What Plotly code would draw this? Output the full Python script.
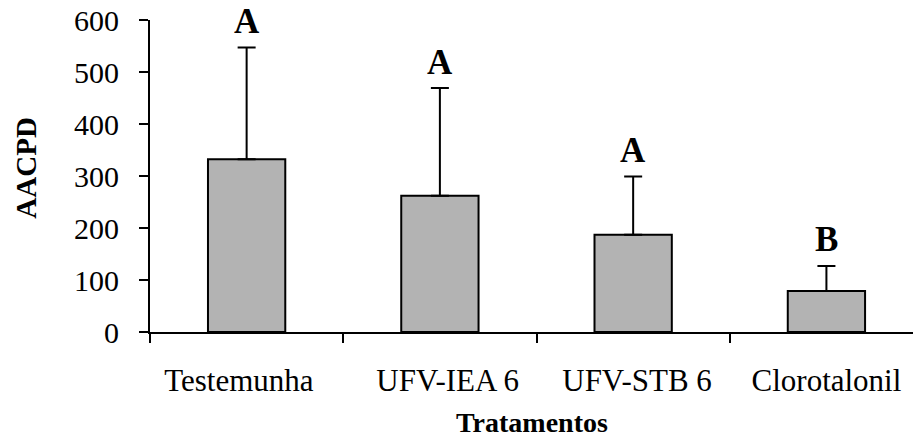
import plotly.graph_objects as go

categories = ["Testemunha", "UFV-IEA 6", "UFV-STB 6", "Clorotalonil"]
means = [332, 262, 187, 79]
errors = [215, 207, 112, 48]
letters = ["A", "A", "A", "B"]
y_ticks = [0, 100, 200, 300, 400, 500, 600]
# tick labels as placed in the original (slightly offset from bar centres)
tick_text = ["Testemunha\u00a0\u00a0", "\u00a0\u00a0UFV-IEA 6", "\u00a0UFV-STB 6", "Clorotalonil"]

FONT = "Liberation Serif"

fig = go.Figure()
fig.add_trace(go.Bar(
    x=categories, y=means, width=0.4,
    marker=dict(color="#b3b3b3", line=dict(color="black", width=2)),
    error_y=dict(type="data", symmetric=False, array=errors,
                 arrayminus=[0] * len(errors),
                 color="black", thickness=2, width=9),
    showlegend=False,
))

for c, m, e, l in zip(categories, means, errors, letters):
    fig.add_annotation(x=c, y=m + e, text=f"<b>{l}</b>", showarrow=False,
                       yanchor="middle", yshift=26,
                       font=dict(family=FONT, size=35, color="black"))

fig.add_annotation(xref="paper", yref="paper", x=(26.5 - 150) / 763, y=(331.7 - 168) / 311.7,
                   text="<b>AACPD</b>", textangle=-90, showarrow=False,
                   xanchor="center", yanchor="middle",
                   font=dict(family=FONT, size=29, color="black"))
fig.add_annotation(xref="paper", yref="paper", x=(532 - 150) / 763, y=-(441 - 331.7) / 311.7,
                   text="<b>Tratamentos</b>", showarrow=False,
                   xanchor="center", yanchor="bottom", yshift=1,
                   font=dict(family=FONT, size=28, color="black"))

fig.update_layout(
    width=913, height=441,
    margin=dict(l=150, r=0, t=20, b=109),
    paper_bgcolor="white", plot_bgcolor="white",
    font=dict(family=FONT, color="black"),
    bargap=0.6,
)
fig.update_xaxes(
    type="category", range=[-0.5, 3.448],
    tickmode="array", tickvals=categories, ticktext=tick_text,
    showline=True, linecolor="black", linewidth=2,
    ticks="outside", tickson="boundaries", ticklen=9, tickwidth=1.5, tickcolor="black",
    tickfont=dict(family=FONT, size=31, color="black"),
    ticklabelstandoff=20, showgrid=False, zeroline=False,
)
fig.update_yaxes(
    range=[0, 600], tickvals=y_ticks,
    showline=True, linecolor="black", linewidth=2,
    ticks="outside", ticklen=9, tickwidth=1.5, tickcolor="black",
    tickfont=dict(family=FONT, size=30, color="black"),
    ticklabelstandoff=14, showgrid=False, zeroline=False,
)

fig.write_html("out.html")
